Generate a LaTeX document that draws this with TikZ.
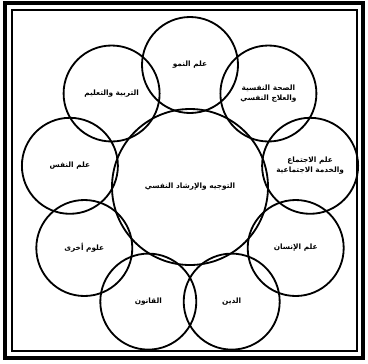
\documentclass[tikz,border=0pt]{standalone}
\usepackage{fontspec}
\newfontfamily\arabicfont[Script=Arabic,BoldFont={DejaVu Sans Bold}]{DejaVu Sans}
\TeXXeTstate=1
\usetikzlibrary{positioning}

\begin{document}
\begin{tikzpicture}[x=0.05cm, y=-0.05cm,
    font=\arabicfont\bfseries\fontsize{10.5}{15}\selectfont,
    field/.style={draw, circle, line width=2.6pt, minimum size=4.8cm,
                  inner sep=0pt, align=center},
    hub/.style={field, minimum size=7.8cm}]
  \useasboundingbox (0,0) rectangle (368,363);
  \draw[line width=4.5pt] (5,3) rectangle (363,358);
  \draw[line width=2.8pt] (12,10) rectangle (357,351);
  \node[field] (growth) at (190,65) {\beginR علم النمو\endR};
  \node[field] (health) at (268.4,93.5) {\beginR الصحة النفسية\endR\\\beginR والعلاج النفسي\endR};
  \node[field] (social) at (310.1,165.8) {\beginR علم الاجتماع\endR\\\beginR والخدمة الاجتماعية\endR};
  \node[field] (anthro) at (295.7,248) {\beginR علم الإنسان\endR};
  \node[field] (relig) at (231.7,301.6) {\beginR الدين\endR};
  \node[field] (law) at (148.3,301.6) {\beginR القانون\endR};
  \node[field] (other) at (84.3,248) {\beginR علوم أخرى\endR};
  \node[field] (psych) at (69.9,165.8) {\beginR علم النفس\endR};
  \node[field] (educ) at (111.6,93.5) {\beginR التربية والتعليم\endR};
  \node[hub] (guide) at (190,187) {\beginR التوجيه والإرشاد النفسي\endR};
\end{tikzpicture}
\end{document}
